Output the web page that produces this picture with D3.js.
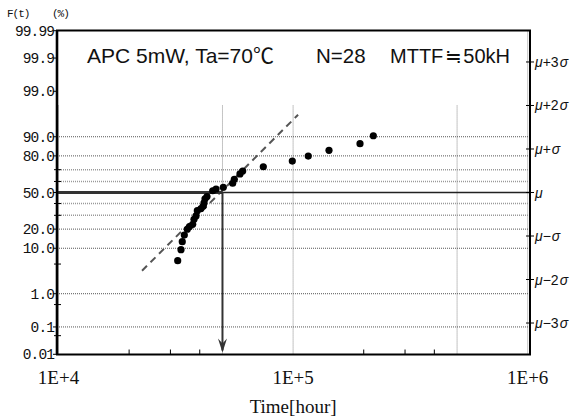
<!DOCTYPE html>
<html><head><meta charset="utf-8">
<script src="https://cdn.jsdelivr.net/npm/d3@7/dist/d3.min.js"></script>
<style>html,body{margin:0;padding:0;background:#fff;}</style>
</head><body>
<svg id="c" width="578" height="418"></svg>
<script>
// ---- data ----
const failTimes = [32220,33280,33700,34380,35400,36170,37330,37810,38560,39060,40500,41420,41710,42120,42950,45430,46930,50410,55260,56150,59370,60960,74640,99220,116050,142230,192850,219800];
const failPercents = [5.85,9.43,12.9,16.4,19.9,21.7,23.2,26.9,29.5,33.8,35.6,37.8,40.5,44.3,46.3,51.6,53.2,54.8,58.4,61.9,66.5,68.9,72.3,76.5,79.9,83.4,86.9,90.4];
const fitTimes = [22700, 105000];
const fitPercents = [3.6, 96.3];
const mttf = 50000;
const mttfPercent = 50;
const yTickValues = [99.99,99.9,99.0,90,80,50,20,10,1,0.1,0.01];
const yTickLabels = ["99.99","99.9","99.0","90.0","80.0","50.0","20.0","10.0","1.0","0.1","0.01"];
const yMinorTicks = [70,60,40,30,5,0.5,0.05];
const hGridDark = [90,80,20,10,1,0.1];
const hGridLight = [70,60,40,30];
const sigmaValues = [3,2,1,0,-1,-2,-3];
const sigmaSigns = ["+3","+2","+","","\u2212","\u22122","\u22123"];
const xTickValues = [1e4,1e5,1e6];
const xTickLabels = ["1E+4","1E+5","1E+6"];
const xMinorTicks = [2e4,3e4,4e4,2e5,3e5,4e5];
const vGridShort = [1e4,5e4,1e5,5e5];
const vGridFull = [1e6];
const titleParts = ["APC 5mW, Ta=70\u2103","N=28","MTTF\u225250kH"];
const xAxisTitle = "Time[hour]";

// ---- helpers ----
function probit(p){
  const a=[-3.969683028665376e+01,2.209460984245205e+02,-2.759285104469687e+02,1.383577518672690e+02,-3.066479806614716e+01,2.506628277459239e+00];
  const b=[-5.447609879822406e+01,1.615858368580409e+02,-1.556989798598866e+02,6.680131188771972e+01,-1.328068155288572e+01];
  const c=[-7.784894002430293e-03,-3.223964580411365e-01,-2.400758277161838e+00,-2.549732539343734e+00,4.374664141464968e+00,2.938163982698783e+00];
  const d=[7.784695709041462e-03,3.224671290700398e-01,2.445134137142996e+00,3.754408661907416e+00];
  const pl=0.02425, ph=1-pl; let q,r;
  if(p<pl){q=Math.sqrt(-2*Math.log(p));return (((((c[0]*q+c[1])*q+c[2])*q+c[3])*q+c[4])*q+c[5])/((((d[0]*q+d[1])*q+d[2])*q+d[3])*q+1);}
  if(p<=ph){q=p-0.5;r=q*q;return (((((a[0]*r+a[1])*r+a[2])*r+a[3])*r+a[4])*r+a[5])*q/(((((b[0]*r+b[1])*r+b[2])*r+b[3])*r+b[4])*r+1);}
  q=Math.sqrt(-2*Math.log(1-p));return -(((((c[0]*q+c[1])*q+c[2])*q+c[3])*q+c[4])*q+c[5])/((((d[0]*q+d[1])*q+d[2])*q+d[3])*q+1);
}
const x = d3.scaleLog().domain([1e4,1e6]).range([58.5,527.7]);
const yz = d3.scaleLinear().domain([-3.719,3.719]).range([354.3,30.7]);
const y = p => yz(probit(p/100));
const L=57, R=530, T=30.5, B=354.5;

const svg = d3.select("#c");

// vertical gridlines
svg.selectAll(".vgs").data(vGridShort).enter().append("line")
  .attr("x1",d=>x(d)).attr("x2",d=>x(d)).attr("y1",yz(2)).attr("y2",B)
  .attr("stroke","#888").attr("stroke-width",1).attr("stroke-dasharray","1,1");
svg.selectAll(".vgf").data(vGridFull).enter().append("line")
  .attr("x1",d=>x(d)).attr("x2",d=>x(d)).attr("y1",T).attr("y2",B)
  .attr("stroke","#888").attr("stroke-width",1).attr("stroke-dasharray","1,1");

// horizontal gridlines
svg.selectAll(".hgd").data(hGridDark).enter().append("line")
  .attr("x1",L).attr("x2",R).attr("y1",d=>y(d)).attr("y2",d=>y(d))
  .attr("stroke","#555").attr("stroke-width",1).attr("stroke-dasharray","1,1");
svg.selectAll(".hgl").data(hGridLight).enter().append("line")
  .attr("x1",L).attr("x2",R).attr("y1",d=>y(d)).attr("y2",d=>y(d))
  .attr("stroke","#999").attr("stroke-width",1.6).attr("stroke-dasharray","1,1");
// 50% line
svg.append("line").attr("x1",L).attr("x2",R).attr("y1",y(mttfPercent)).attr("y2",y(mttfPercent))
  .attr("stroke","#222").attr("stroke-width",1.3);

// left axis ticks & labels
svg.selectAll(".ylt").data(yTickValues).enter().append("line")
  .attr("x1",L-4).attr("x2",L).attr("y1",d=>y(d)).attr("y2",d=>y(d)).attr("stroke","#000");
svg.selectAll(".ymt").data(yMinorTicks).enter().append("line")
  .attr("x1",L-3).attr("x2",L+4).attr("y1",d=>y(d)).attr("y2",d=>y(d)).attr("stroke","#000");
svg.selectAll(".yl").data(yTickValues).enter().append("text")
  .attr("x",L-3).attr("y",d=>y(d)+5).attr("text-anchor","end")
  .attr("font-family","Liberation Mono, DejaVu Sans Mono, monospace").attr("font-size",14.5)
  .attr("letter-spacing","-0.9px").attr("fill","#111")
  .text((d,i)=>yTickLabels[i]);
svg.append("text").attr("x",7).attr("y",17).attr("font-family","Liberation Mono, monospace")
  .attr("font-size",11).attr("letter-spacing","-1px").attr("fill","#111").text("F(t)");
svg.append("text").attr("x",52).attr("y",17).attr("font-family","Liberation Mono, monospace")
  .attr("font-size",11).attr("letter-spacing","-1px").attr("fill","#111").text("(%)");

// right axis sigma ticks & labels
svg.selectAll(".st").data(sigmaValues).enter().append("line")
  .attr("x1",R-4).attr("x2",R+4).attr("y1",d=>yz(d)).attr("y2",d=>yz(d)).attr("stroke","#000");
const sl = svg.selectAll(".sl").data(sigmaValues).enter().append("text")
  .attr("x",R+5).attr("y",d=>yz(d)+5)
  .attr("font-family","Liberation Sans, Arial, sans-serif").attr("font-size",14).attr("fill","#111");
sl.append("tspan").attr("font-style","italic").text("\u03bc");
sl.append("tspan").text((d,i)=>sigmaSigns[i]);
sl.filter(d=>d!==0).append("tspan").attr("font-style","italic").attr("dx",1).text("\u03c3");

// bottom ticks
svg.selectAll(".xmt").data(xMinorTicks).enter().append("line")
  .attr("x1",d=>x(d)).attr("x2",d=>x(d)).attr("y1",B-5).attr("y2",B).attr("stroke","#000");
svg.selectAll(".xl").data(xTickValues).enter().append("text")
  .attr("x",d=>x(d)).attr("y",384).attr("text-anchor","middle")
  .attr("font-family","Liberation Serif, Times New Roman, serif").attr("font-size",19).attr("fill","#111")
  .text((d,i)=>xTickLabels[i]);
svg.append("text").attr("x",x(1e5)).attr("y",413).attr("text-anchor","middle")
  .attr("font-family","Liberation Serif, Times New Roman, serif").attr("font-size",19).attr("fill","#111")
  .text(xAxisTitle);

// fit line (dashed)
svg.append("line")
  .attr("x1",x(fitTimes[0])).attr("y1",y(fitPercents[0]))
  .attr("x2",x(fitTimes[1])).attr("y2",y(fitPercents[1]))
  .attr("stroke","#555").attr("stroke-width",2).attr("stroke-dasharray","7,5");

// MTTF marker lines
svg.append("line").attr("x1",L).attr("x2",x(mttf)).attr("y1",y(mttfPercent)).attr("y2",y(mttfPercent))
  .attr("stroke","#333").attr("stroke-width",3);
svg.append("line").attr("x1",x(mttf)).attr("x2",x(mttf)).attr("y1",y(mttfPercent)).attr("y2",B-4)
  .attr("stroke","#333").attr("stroke-width",2);
const ax = x(mttf);
svg.append("path").attr("d",`M${ax-4.5},${B-16} L${ax},${B-2} L${ax+4.5},${B-16} L${ax},${B-11} Z`)
  .attr("fill","#333");

// data points
svg.selectAll(".pt").data(failTimes).enter().append("circle")
  .attr("cx",d=>x(d)).attr("cy",(d,i)=>y(failPercents[i])).attr("r",3.6).attr("fill","#000");

// frame
svg.append("rect").attr("x",L).attr("y",T).attr("width",R-L).attr("height",B-T)
  .attr("fill","none").attr("stroke","#000").attr("stroke-width",2);
svg.append("line").attr("x1",L).attr("x2",L).attr("y1",T).attr("y2",B)
  .attr("stroke","#000").attr("stroke-width",2.6);

// title
const tx = [87,316,390];
const tsz = [21,20.5,20];
const tt = svg.selectAll(".tt").data(titleParts).enter().append("text")
  .attr("x",(d,i)=>tx[i]).attr("y",63)
  .attr("font-family","Liberation Sans, Arial, 'Noto Sans CJK JP', sans-serif")
  .attr("font-size",(d,i)=>tsz[i]).attr("fill","#111");
tt.each(function(d){
  const parts = d.split("\u2252");
  const t = d3.select(this);
  t.append("tspan").text(parts[0]);
  if(parts.length>1){
    t.append("tspan").attr("dx",2).attr("font-family","'Noto Sans CJK JP', sans-serif").text("\u2252");
    t.append("tspan").attr("dx",1).text(parts[1]);
  }
});
</script>
</body></html>
